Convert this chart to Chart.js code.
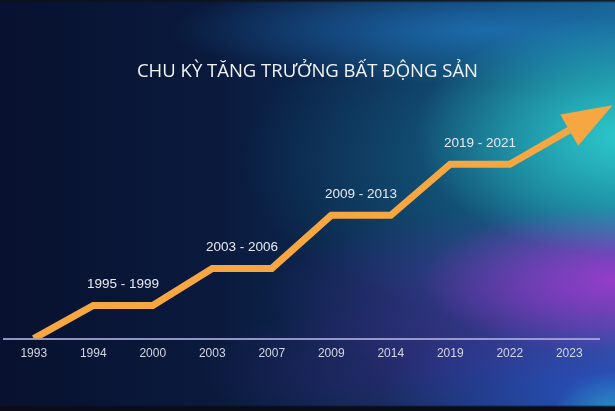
<!DOCTYPE html>
<html lang="vi">
<head>
    <meta charset="UTF-8">
    <title>Chu kỳ tăng trưởng bất động sản</title>
    <script src="https://cdn.jsdelivr.net/npm/chart.js"></script>
    <style>
        html, body {
            margin: 0;
            padding: 0;
            width: 615px;
            height: 411px;
            overflow: hidden;
        }
        body {
            /* dark navy slide with teal / purple glows on the right */
            background:
                linear-gradient(180deg, #0c1218 0px, rgba(12,18,24,0) 3px),
                linear-gradient(0deg, #0a0c16 0px, #0a0c16 4px, rgba(10,12,22,0) 6px),
                radial-gradient(ellipse 60px 40px at 615px 411px, rgba(40,170,200,0.7), rgba(40,170,200,0)),
                radial-gradient(ellipse 210px 120px at 625px 135px, rgba(45,205,205,0.95), rgba(45,205,205,0)),
                radial-gradient(ellipse 200px 75px at 620px 280px, rgba(155,60,205,0.95), rgba(155,60,205,0)),
                radial-gradient(ellipse 300px 90px at 560px 295px, rgba(95,50,175,0.65), rgba(95,50,175,0)),
                radial-gradient(ellipse 230px 85px at 615px 390px, rgba(45,75,200,0.85), rgba(45,75,200,0)),
                radial-gradient(ellipse 220px 70px at 420px 370px, rgba(70,40,140,0.45), rgba(70,40,140,0)),
                radial-gradient(ellipse 360px 170px at 600px 160px, rgba(25,125,155,0.7), rgba(25,125,155,0)),
                radial-gradient(ellipse 320px 55px at 490px 30px, rgba(30,110,180,0.9), rgba(30,110,180,0)),
                linear-gradient(90deg, #08112f 0%, #0a1a3d 35%, #0d2a52 60%, #0f3d66 80%, #146088 100%);
        }
        .chart-container {
            position: relative;
            width: 615px;
            height: 411px;
        }
    </style>
</head>
<body>
    <div class="chart-container">
        <canvas id="cycleChart"></canvas>
    </div>

    <script>
        const years = ['1993', '1994', '2000', '2003', '2007', '2009', '2014', '2019', '2022', '2023'];
        const growth = [0, 33, 33, 70, 70, 123, 123, 174, 174, 208];

        // growth periods, each sits over the flat step that starts at periodStart
        const periodLabels = ['1995 - 1999', '2003 - 2006', '2009 - 2013', '2019 - 2021'];
        const periodStart = [1, 3, 5, 7];

        const chartTitle = 'CHU KỲ TĂNG TRƯỞNG BẤT ĐỘNG SẢN';
        const orange = '#F6A742';

        // title, arrow head on the last point + period captions above the steps
        const stepExtras = {
            id: 'stepExtras',
            afterDatasetsDraw(chart) {
                const ctx = chart.ctx;
                const pts = chart.getDatasetMeta(0).data;
                const a = pts[pts.length - 2], b = pts[pts.length - 1];
                const dx = b.x - a.x, dy = b.y - a.y;
                const len = Math.sqrt(dx * dx + dy * dy);
                const ux = dx / len, uy = dy / len;
                const headLen = 50, half = 18;
                ctx.save();
                ctx.fillStyle = orange;
                ctx.beginPath();
                ctx.moveTo(b.x + ux * headLen, b.y + uy * headLen);
                ctx.lineTo(b.x - uy * half, b.y + ux * half);
                ctx.lineTo(b.x + uy * half, b.y - ux * half);
                ctx.closePath();
                ctx.fill();

                ctx.fillStyle = '#e8eaf2';
                ctx.font = '13.5px "Liberation Sans", Arial, sans-serif';
                ctx.textAlign = 'center';
                ctx.textBaseline = 'middle';
                periodLabels.forEach((txt, i) => {
                    const p1 = pts[periodStart[i]], p2 = pts[periodStart[i] + 1];
                    ctx.fillText(txt, (p1.x + p2.x) / 2, p1.y - 21);
                });

                ctx.fillStyle = '#f2f4f8';
                ctx.font = '18.5px "Open Sans", sans-serif';
                ctx.fillText(chartTitle, chart.width / 2, 72);
                ctx.restore();
            }
        };

        const ctx = document.getElementById('cycleChart').getContext('2d');

        new Chart(ctx, {
            type: 'line',
            data: {
                labels: years,
                datasets: [{
                    data: growth,
                    borderColor: orange,
                    borderWidth: 7,
                    borderJoinStyle: 'miter',
                    pointRadius: 0,
                    tension: 0,
                    fill: false,
                    clip: { left: 10, top: 20, right: 30, bottom: 0 }
                }]
            },
            options: {
                responsive: true,
                maintainAspectRatio: false,
                animation: false,
                layout: {
                    padding: { left: 4, right: 16, top: 84, bottom: 42 }
                },
                scales: {
                    x: {
                        type: 'category',
                        offset: true,
                        grid: { display: false, drawTicks: false },
                        border: { display: true, color: 'rgba(170,170,225,0.85)', width: 2 },
                        ticks: {
                            color: '#d4d6e4',
                            padding: 8,
                            font: { family: '"Liberation Sans", Arial, sans-serif', size: 12 }
                        }
                    },
                    y: {
                        display: false,
                        min: 0,
                        max: 254
                    }
                },
                plugins: {
                    legend: { display: false },
                    tooltip: { enabled: false },
                    title: { display: false }
                }
            },
            plugins: [stepExtras]
        });
    </script>
</body>
</html>
